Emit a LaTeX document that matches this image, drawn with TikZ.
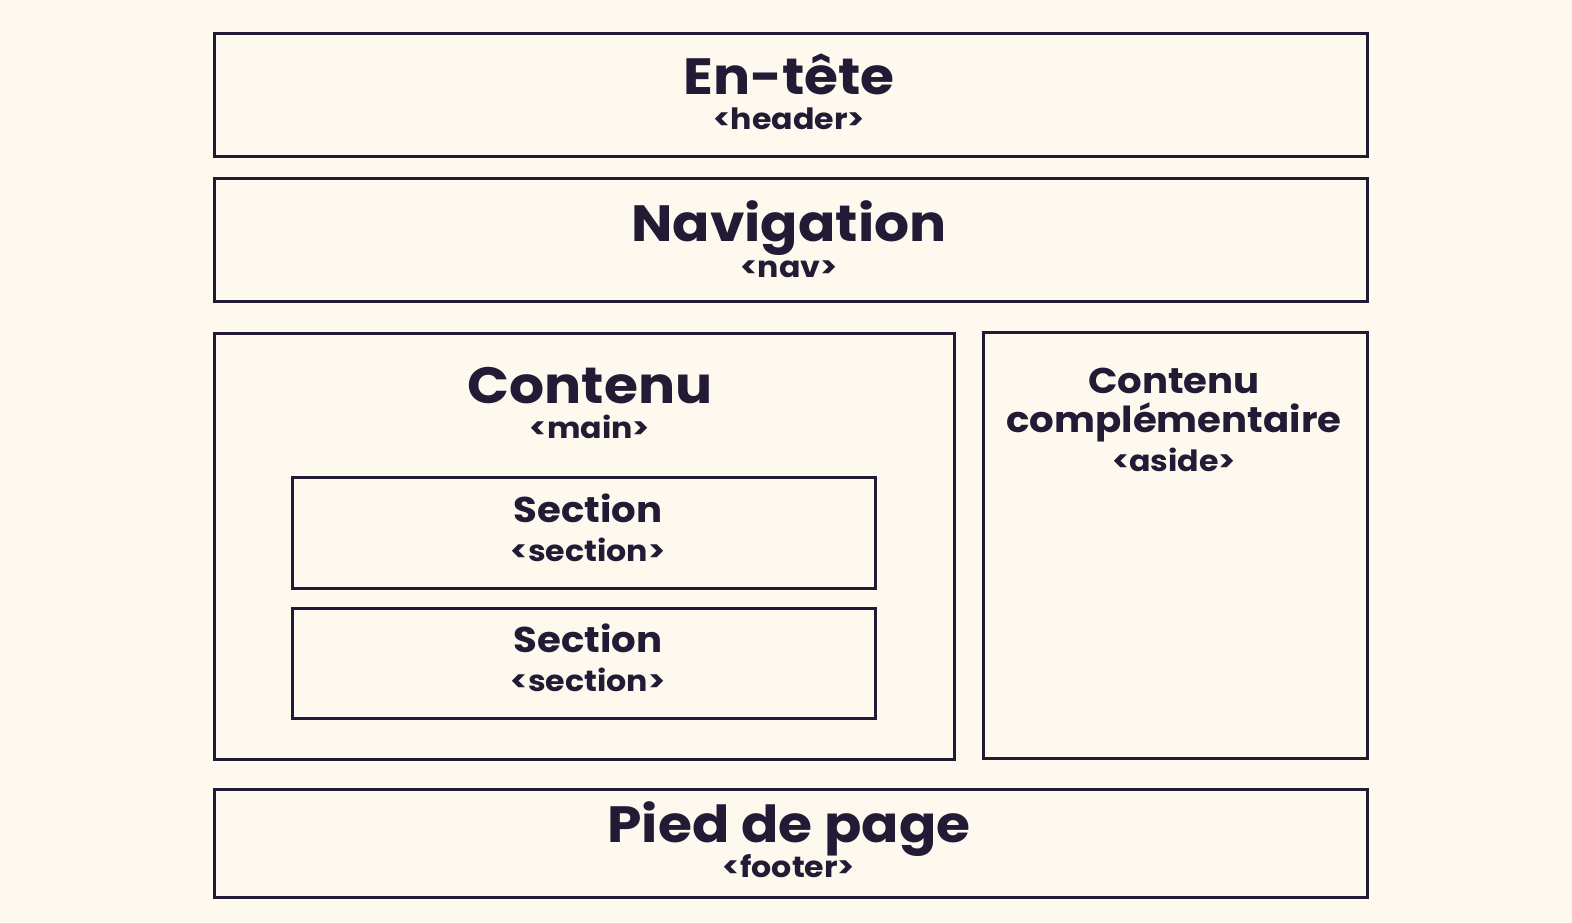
\documentclass[tikz,border=0pt]{standalone}
\usepackage{fontspec}
\setmainfont{Poppins}
\newfontfamily\widefont{Poppins}[FakeStretch=1.08]
\definecolor{paper}{HTML}{FEF9EE}
\definecolor{ink}{HTML}{231A35}
\begin{document}
\begin{tikzpicture}[x=1pt,y=-1pt,
  frame/.style={draw=ink, line width=3pt, anchor=north west, inner sep=0pt},
  label/.style={text=ink, anchor=base, inner sep=0pt},
  title/.style={label, font=\widefont\bfseries\fontsize{51}{56}\selectfont, text depth=0pt},
  mid/.style={label, font=\widefont\bfseries\fontsize{35.8}{40}\selectfont, text depth=0pt},
  tag/.style={label, font=\widefont\bfseries\fontsize{29.3}{32}\selectfont, text height=18pt}]
\fill[paper] (0,0) rectangle (1572,922);
\useasboundingbox (0,0) rectangle (1572,922);

% page regions
\node[frame, minimum width=1153pt, minimum height=123pt] (header) at (212.5,31.5) {};
\node[frame, minimum width=1153pt, minimum height=123.5pt] (nav) at (212.5,176.5) {};
\node[frame, minimum width=740pt, minimum height=426.5pt] (main) at (212.5,331.5) {};
\node[frame, minimum width=384pt, minimum height=426.5pt] (aside) at (982,330.5) {};
\node[frame, minimum width=583pt, minimum height=110.5pt] (sec1) at (291,476) {};
\node[frame, minimum width=583pt, minimum height=110.5pt] (sec2) at (291,606.5) {};
\node[frame, minimum width=1153pt, minimum height=108pt] (footer) at (212.5,788) {};

% labels
\node[title] (tHeader) at (789,94) {En-tête};
\node[tag] (gHeader) at (789,129) {<header>};
\node[title] (tNav) at (789,241) {Navigation};
\node[tag] (gNav) at (789,277) {<nav>};
\node[title] (tMain) at (590,403) {Contenu};
\node[tag] (gMain) at (590,438) {<main>};
\node[mid] (tSec1) at (588,522) {Section};
\node[tag] (gSec1) at (588,561) {<section>};
\node[mid] (tSec2) at (588,652) {Section};
\node[tag] (gSec2) at (588,691) {<section>};
\node[mid] (tAside1) at (1174,393) {Contenu};
\node[mid] (tAside2) at (1174,432) {complémentaire};
\node[tag] (gAside) at (1174,471) {<aside>};
\node[title] (tFooter) at (789,842) {Pied de page};
\node[tag] (gFooter) at (789,877) {<footer>};
\end{tikzpicture}
\end{document}
